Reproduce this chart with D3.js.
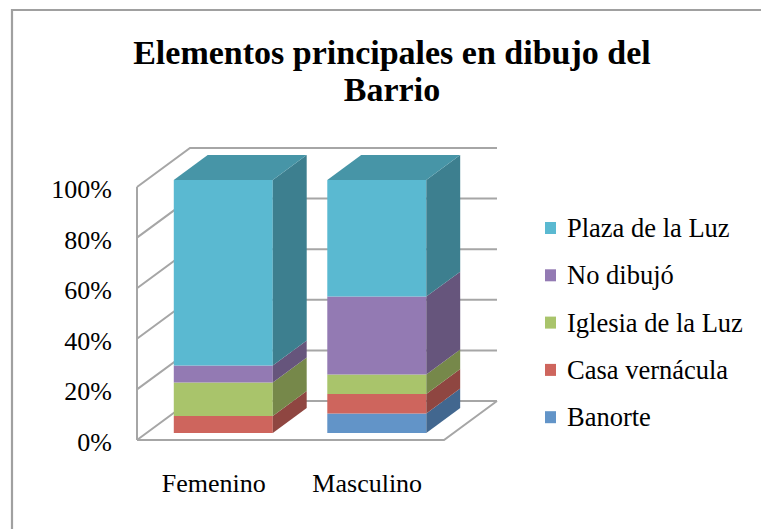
<!DOCTYPE html>
<html lang="es">
<head>
<meta charset="utf-8">
<title>Elementos principales en dibujo del Barrio</title>
<style>
  body { margin: 0; background: #fff; }
  text { font-family: "Liberation Serif", "Times New Roman", serif; fill: #000; }
</style>
</head>
<body>
<svg width="761" height="529"></svg>
<script src="https://cdn.jsdelivr.net/npm/d3@7"></script>
<script>

var categories = ["Femenino", "Masculino"];
var seriesNames = ["Banorte", "Casa vernácula", "Iglesia de la Luz", "No dibujó", "Plaza de la Luz"];
// percentages per category, same order as seriesNames
var femenino = [0, 6.7, 13.3, 6.7, 73.3];
var masculino = [7.7, 7.7, 7.7, 30.8, 46.1];
var yTicks = [0, 20, 40, 60, 80, 100];

var frontColors = ["#6294c8", "#ce655d", "#a9c46b", "#937ab3", "#5ab9d1"];
var sideColors  = ["#42678f", "#8f4641", "#76884a", "#66557c", "#3d7f8f"];
var topColor = "#4795a7";

var svg = d3.select("svg");

// depth of the 3d box
var depthX = 53, depthY = -39;
var barNear = 0.18, barFar = 0.82;

var x = d3.scaleBand().domain(categories).range([137, 444])
    .paddingInner(0.355).paddingOuter(0.1775);
var y = d3.scaleLinear().domain([0, 100]).range([440, 187]);

function P(px, py, d) { return [px + d * depthX, py + d * depthY]; }
function poly(pts) { return "M" + pts.map(function(p) { return p[0] + "," + p[1]; }).join("L") + "Z"; }

// chart frame
svg.append("path")
    .attr("d", "M12,529V10H761")
    .attr("fill", "none").attr("stroke", "#a0a0a0").attr("stroke-width", 2.2);

// title
var title = svg.append("text")
    .attr("text-anchor", "middle")
    .style("font-size", "34px").style("font-weight", "bold");
title.append("tspan").attr("x", 392).attr("y", 64).text("Elementos principales en dibujo del");
title.append("tspan").attr("x", 392).attr("y", 101).text("Barrio");

// walls and gridlines
var grid = svg.append("g").attr("fill", "none").attr("stroke", "#a6a6a6").attr("stroke-width", 2);
var x0 = x.range()[0], x1 = x.range()[1];

yTicks.forEach(function(t) {
  var a = P(x0, y(t), 0), b = P(x0, y(t), 1), c = P(x1, y(t), 1);
  grid.append("path").attr("d", "M" + a + "L" + b + "L" + c);
});
// left wall front edge
grid.append("path").attr("d", "M" + P(x0, y(100), 0) + "L" + P(x0, y(0), 0));
// floor
grid.append("path").attr("d", "M" + P(x0, y(0), 0) + "L" + P(x1, y(0), 0) + "L" + P(x1, y(0), 1));

// y labels
svg.append("g").selectAll("text")
  .data(yTicks).enter().append("text")
    .attr("x", 112)
    .attr("y", function(d) { return y(d) + 11; })
    .attr("text-anchor", "end")
    .style("font-size", "26px")
    .text(function(d) { return d + "%"; });

// stacked 3d bars
var data = categories.map(function(c, i) {
  var vals = i === 0 ? femenino : masculino;
  var row = { cat: c };
  seriesNames.forEach(function(s, j) { row[s] = vals[j]; });
  return row;
});
var stacked = d3.stack().keys(seriesNames)(data);

var bars = svg.append("g");
categories.forEach(function(c, ci) {
  var bx0 = x(c), bx1 = x(c) + x.bandwidth();
  var g = bars.append("g");
  stacked.forEach(function(layer, si) {
    var v0 = layer[ci][0], v1 = layer[ci][1];
    if (v1 - v0 <= 0) return;
    var yb = y(v0), yt = y(v1);
    g.append("path")
      .attr("d", poly([P(bx0, yb, barNear), P(bx1, yb, barNear), P(bx1, yt, barNear), P(bx0, yt, barNear)]))
      .attr("fill", frontColors[si]);
    g.append("path")
      .attr("d", poly([P(bx1, yb, barNear), P(bx1, yb, barFar), P(bx1, yt, barFar), P(bx1, yt, barNear)]))
      .attr("fill", sideColors[si]);
  });
  var yTop = y(100);
  g.append("path")
    .attr("d", poly([P(bx0, yTop, barNear), P(bx1, yTop, barNear), P(bx1, yTop, barFar), P(bx0, yTop, barFar)]))
    .attr("fill", topColor);
});

// category labels
svg.append("g").selectAll("text")
  .data(categories).enter().append("text")
    .attr("x", function(d) { return x(d) + x.bandwidth() / 2; })
    .attr("y", 492)
    .attr("text-anchor", "middle")
    .style("font-size", "26px")
    .text(function(d) { return d; });

// legend, top-down order reversed from stack
var legendItems = seriesNames.slice().reverse();
var legend = svg.append("g").selectAll("g")
  .data(legendItems).enter().append("g")
    .attr("transform", function(d, i) { return "translate(545," + (228 + i * 47.3) + ")"; });
legend.append("rect")
    .attr("x", 0).attr("y", -6).attr("width", 11).attr("height", 12)
    .attr("fill", function(d) { return frontColors[seriesNames.indexOf(d)]; });
legend.append("text")
    .attr("x", 22).attr("y", 9)
    .style("font-size", "26.5px")
    .text(function(d) { return d; });

</script>
</body>
</html>
